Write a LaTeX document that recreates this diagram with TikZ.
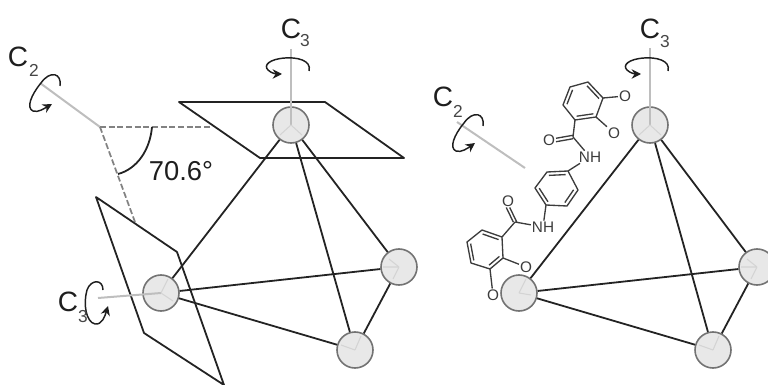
\documentclass[tikz,border=0pt]{standalone}
\usepackage{fontspec}
\setmainfont{Liberation Sans}
\usetikzlibrary{arrows.meta, calc}

\tikzset{
  metal/.style={circle, draw={rgb,255:red,115;green,115;blue,115}, fill={rgb,255:red,232;green,232;blue,232}, line width=1.2pt, minimum size=27pt, inner sep=0pt},
  edgeline/.style={draw={rgb,255:red,35;green,35;blue,35}, line width=1.35pt},
  axisline/.style={draw={rgb,255:red,190;green,190;blue,190}, line width=1.5pt},
  legline/.style={draw={rgb,255:red,212;green,212;blue,212}, line width=0.8pt},
  dashline/.style={draw={rgb,255:red,130;green,130;blue,130}, line width=1.3pt, dash pattern=on 4.5pt off 2pt},
  turnline/.style={draw={rgb,255:red,30;green,30;blue,30}, line width=1.1pt, -{Stealth[length=7pt,width=7pt]}},
  bond/.style={draw={rgb,255:red,60;green,60;blue,60}, line width=1pt},
  atom/.style={font=\fontsize{11.5}{12}\selectfont, text={rgb,255:red,60;green,60;blue,60}, inner sep=0.6pt},
  axislabel/.style={font=\fontsize{21}{21}\selectfont, text={rgb,255:red,30;green,30;blue,30}, inner sep=0pt},
  sublabel/.style={font=\fontsize{13}{13}\selectfont, text={rgb,255:red,70;green,70;blue,70}, inner sep=0pt}
}
\newcommand{\ringbond}[3]{\draw[bond] ($(#1)!.2!(#3)$) -- ($(#2)!.2!(#3)$);}

\begin{document}
\begin{tikzpicture}[x=0.75pt,y=0.75pt,yscale=-1,xscale=1]
\useasboundingbox (0,0) rectangle (768,385);

%Left planes
\draw[edgeline, line join=round] (179,102) -- (325,102) -- (404,158) -- (260,158) -- cycle;
\draw[edgeline, line join=round] (96,197) -- (177,252) -- (224,385) -- (144,333) -- cycle;

%Left axes
\coordinate (lcenter) at (100,127);
\coordinate (lctwo) at (40,83);
\coordinate (lplaneone) at (210,127);
\coordinate (lplanetwo) at (135,222);
\coordinate (lcthree) at (291,49);
\coordinate (lcthreeb) at (98,298);
\draw[axisline] (lcenter) -- (lctwo);
\draw[dashline] (lcenter) -- (lplaneone);
\draw[dashline] (lcenter) -- (lplanetwo);
\draw[edgeline] (152,127) .. controls (150,150) and (137,169) .. (118,174);

% Left atoms
\node[metal] (ltop) at (291,125) {};
\node[metal] (lleft) at (161,293) {};
\node[metal] (lright) at (399,267) {};
\node[metal] (lbottom) at (355,350) {};

\draw[axisline] (lcthree) -- (ltop.center);
\draw[axisline] (lcthreeb) -- (lleft.center);
\draw[legline] (ltop.center) -- ++(-11,10) (ltop.center) -- ++(11,10);
\draw[legline] (lleft.center) -- ++(7,-14) (lleft.center) -- ++(12,8);
\draw[legline] (lright.center) -- ++(-10,-8) (lright.center) -- ++(-6,12) (lright.center) -- ++(-16,0);
\draw[legline] (lbottom.center) -- ++(-14,-5) (lbottom.center) -- ++(6,-14);

%Left edges
\draw[edgeline] (ltop) -- (lleft);
\draw[edgeline] (ltop) -- (lright);
\draw[edgeline] (ltop) -- (lbottom);
\draw[edgeline] (lleft) -- (lright);
\draw[edgeline] (lleft) -- (lbottom);
\draw[edgeline] (lright) -- (lbottom);

%Left turn arrows
\draw[turnline] (309,71) .. controls (312,60) and (296,57) .. (285,58) .. controls (270,59) and (263,65) .. (268,70) .. controls (271,73) and (276,74) .. (282,74);
\draw[turnline] (60,86) .. controls (62,73) and (50,70) .. (41,83) .. controls (31,95) and (26,108) .. (33,111) .. controls (38,113) and (45,108) .. (52,104);
\draw[turnline] (103,290) .. controls (103,279) and (91,279) .. (87,290) .. controls (83,304) and (86,322) .. (95,324) .. controls (102,325) and (105,316) .. (108,306);

%Left labels
\node[axislabel] (lctwolabel) at (18,57) {C};
\node[sublabel] (lctwosub) at (34,70) {2};
\node[axislabel] (lcthreelabel) at (291,29) {C};
\node[sublabel] (lcthreesub) at (305,41) {3};
\node[axislabel] (lcthreeblabel) at (68,302) {C};
\node[sublabel] (lcthreebsub) at (83,317) {3};
\node[font=\fontsize{20.5}{20.5}\selectfont, text={rgb,255:red,30;green,30;blue,30}, inner sep=0pt] (anglelabel) at (181,171) {70.6°};

%Right axes
\coordinate (rctwoa) at (457,122);
\coordinate (rctwob) at (525,168);
\coordinate (rcthree) at (650,48);
\draw[axisline] (rctwoa) -- (rctwob);

% Right atoms
\node[metal] (rtop) at (650,125) {};
\node[metal] (rleft) at (519,293) {};
\node[metal] (rright) at (757,267) {};
\node[metal] (rbottom) at (713,350) {};

\draw[axisline] (rcthree) -- (rtop.center);
\draw[legline] (rtop.center) -- ++(-11,10) (rtop.center) -- ++(11,10);
\draw[legline] (rleft.center) -- ++(7,-14) (rleft.center) -- ++(12,2);
\draw[legline] (rright.center) -- ++(-10,-8) (rright.center) -- ++(-6,12) (rright.center) -- ++(-16,0);
\draw[legline] (rbottom.center) -- ++(-14,-5) (rbottom.center) -- ++(6,-14);

%Right edges
\draw[edgeline] (rtop) -- (rleft);
\draw[edgeline] (rtop) -- (rright);
\draw[edgeline] (rtop) -- (rbottom);
\draw[edgeline] (rleft) -- (rright);
\draw[edgeline] (rleft) -- (rbottom);
\draw[edgeline] (rright) -- (rbottom);

%Right turn arrows
\draw[turnline] (668,71) .. controls (671,60) and (655,57) .. (644,58) .. controls (629,59) and (622,65) .. (627,70) .. controls (630,73) and (635,74) .. (641,74);
\draw[turnline] (483,126) .. controls (485,113) and (473,110) .. (464,123) .. controls (454,135) and (449,148) .. (456,151) .. controls (461,153) and (468,148) .. (475,143);

%Right labels
\node[axislabel] (rctwolabel) at (443,97) {C};
\node[sublabel] (rctwosub) at (458,111) {2};
\node[axislabel] (rcthreelabel) at (650,29) {C};
\node[sublabel] (rcthreesub) at (665,42) {3};

%Ring one
\coordinate (ua) at (588,82);
\coordinate (ub) at (603,98);
\coordinate (uc) at (596,117);
\coordinate (ud) at (575,120);
\coordinate (ue) at (563,105);
\coordinate (uf) at (570,87);
\coordinate (um) at (583,101);
\draw[bond, line join=round] (ua) -- (ub) -- (uc) -- (ud) -- (ue) -- (uf) -- cycle;
\ringbond{ua}{ub}{um}
\ringbond{uc}{ud}{um}
\ringbond{ue}{uf}{um}

%Ring two
\coordinate (ma) at (547,172);
\coordinate (mb) at (568,171);
\coordinate (mc) at (578,190);
\coordinate (md) at (567,206);
\coordinate (me) at (546,205);
\coordinate (mf) at (535,188);
\coordinate (mm) at (556,189);
\draw[bond, line join=round] (ma) -- (mb) -- (mc) -- (md) -- (me) -- (mf) -- cycle;
\ringbond{ma}{mb}{mm}
\ringbond{mc}{md}{mm}
\ringbond{me}{mf}{mm}

%Ring three
\coordinate (da) at (502,237);
\coordinate (db) at (482,230);
\coordinate (dc) at (467,242);
\coordinate (dd) at (471,263);
\coordinate (de) at (490,269);
\coordinate (df) at (503,258);
\coordinate (dm) at (485,250);
\draw[bond, line join=round] (da) -- (db) -- (dc) -- (dd) -- (de) -- (df) -- cycle;
\ringbond{da}{db}{dm}
\ringbond{dc}{dd}{dm}
\ringbond{de}{df}{dm}

%Ligand atoms
\coordinate (ucarbon) at (573,137);
\coordinate (dcarbon) at (515,222);
\node[atom] (uoa) at (625,96) {O};
\node[atom] (uob) at (614,133) {O};
\node[atom] (uoc) at (549,140) {O};
\node[atom] (unh) at (590,157) {NH};
\node[atom] (dnh) at (543,227) {NH};
\node[atom] (doc) at (508,201) {O};
\node[atom] (doa) at (526,267) {O};
\node[atom] (dob) at (493,295) {O};

%Ligand bonds
\draw[bond] (ub) -- (uoa);
\draw[bond] (uc) -- (uob);
\draw[bond] (ud) -- (ucarbon);
\draw[bond] (ucarbon) -- (unh);
\draw[bond] ([yshift=-1.3pt]ucarbon) -- ([yshift=-1.3pt]uoc.east);
\draw[bond] ([yshift=1.3pt]ucarbon) -- ([yshift=1.3pt]uoc.east);
\draw[bond] (unh) -- (mb);
\draw[bond] (me) -- (dnh);
\draw[bond] (dnh) -- (dcarbon);
\draw[bond] ([xshift=-1.3pt]dcarbon) -- ([xshift=-1.3pt]doc.south);
\draw[bond] ([xshift=1.3pt]dcarbon) -- ([xshift=1.3pt]doc.south);
\draw[bond] (dcarbon) -- (da);
\draw[bond] (df) -- (doa);
\draw[bond] (de) -- (dob);

\end{tikzpicture}
\end{document}
